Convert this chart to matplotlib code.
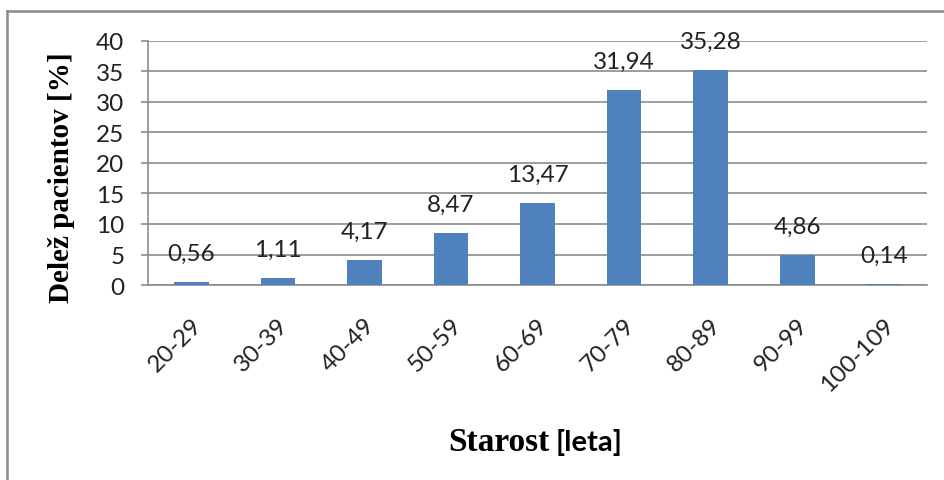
import matplotlib
matplotlib.use("Agg")
import matplotlib.pyplot as plt
from matplotlib.lines import Line2D
from matplotlib.transforms import ScaledTranslation

# starostne skupine in delez pacientov
skupine = ['20-29', '30-39', '40-49', '50-59', '60-69', '70-79', '80-89', '90-99', '100-109']
delez = [0.56, 1.11, 4.17, 8.47, 13.47, 31.94, 35.28, 4.86, 0.14]

sans = ['Lato', 'DejaVu Sans']
serif = ['Liberation Serif', 'DejaVu Serif']
plt.rcParams['font.family'] = sans

fig = plt.figure(figsize=(9.45, 4.81), dpi=100)
ax = fig.add_axes([0.1566, 0.4054, 0.9810 - 0.1566, 0.9127 - 0.4054])

x = range(len(skupine))
bars = ax.bar(x, delez, width=0.4, color='#4F81BD', zorder=3)

for xi, v in zip(x, delez):
    ax.annotate(('%.2f' % v).replace('.', ','), (xi, v), xytext=(0, 13),
                textcoords='offset points', ha='center', va='bottom',
                fontsize=17.5, color='#222222', zorder=4)

ax.set_xlim(-0.5, len(skupine) - 0.5)
ax.set_ylim(0, 40)
ax.set_yticks(range(0, 41, 5))
ax.yaxis.grid(True, color='#8c8c8c', linewidth=1.2, zorder=0)
ax.set_axisbelow(True)

ax.set_xticks(list(x))
ax.set_xticklabels(skupine, rotation=45, ha='right', va='center',
                   rotation_mode='anchor', fontsize=17.5, color='#222222')
ax.tick_params(axis='x', length=0, pad=26)
ax.tick_params(axis='y', length=5, width=1.2, color='#8c8c8c', pad=12,
               labelsize=17.5, labelcolor='#222222')
# oznake malo v desno
premik = ScaledTranslation(5 / 72, 0, fig.dpi_scale_trans)
for lbl in ax.get_xticklabels():
    lbl.set_transform(lbl.get_transform() + premik)

for s in ['top', 'right']:
    ax.spines[s].set_visible(False)
for s in ['left', 'bottom']:
    ax.spines[s].set_color('#8c8c8c')
    ax.spines[s].set_linewidth(1.2)

fig.text(0.065, 0.63, 'Delež pacientov [%]', rotation=90, ha='center', va='center',
         fontsize=21, fontweight='bold', family=serif)
fig.text(549 / 945, 1 - 451 / 481, 'Starost', ha='right', va='baseline',
         fontsize=24, fontweight='bold', family=serif)
fig.text(556 / 945, 1 - 451 / 481, '[leta]', ha='left', va='baseline',
         fontsize=21, fontweight='bold', family=sans)

# okvir grafa
fig.add_artist(Line2D([7 / 945, 7 / 945], [0, 1 - 12 / 481], transform=fig.transFigure,
                      color='#8a8a8a', linewidth=1.8))
fig.add_artist(Line2D([7 / 945, 1], [1 - 12 / 481, 1 - 12 / 481], transform=fig.transFigure,
                      color='#8a8a8a', linewidth=1.8))

fig.savefig('out.png', dpi=100)
